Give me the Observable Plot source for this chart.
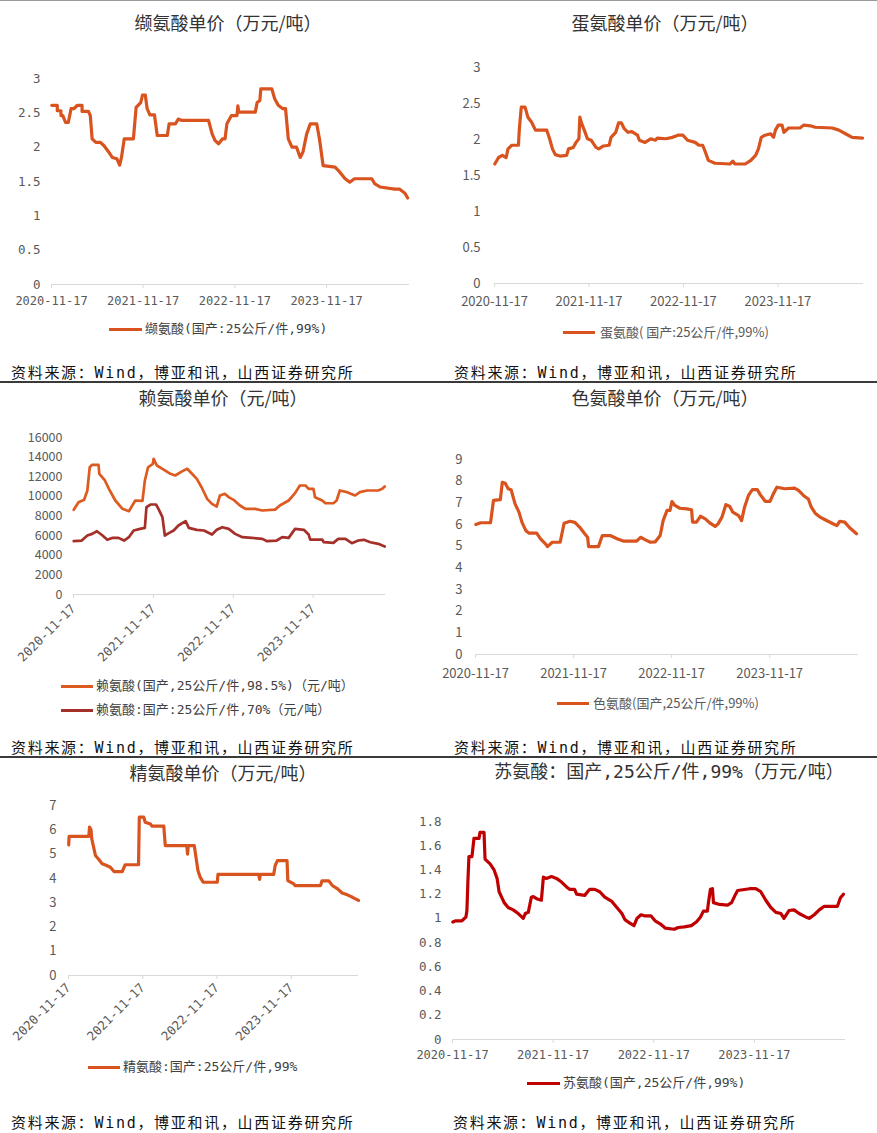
<!DOCTYPE html>
<html><head><meta charset="utf-8">
<script src="https://cdn.jsdelivr.net/npm/d3@7"></script>
<script src="https://cdn.jsdelivr.net/npm/@observablehq/plot@0.6"></script>
<style>
body{margin:0;background:#fff;}
#page{position:relative;width:877px;height:1133px;overflow:hidden;background:#fff;}
.abs{position:absolute;white-space:nowrap;}
.title{font-family:'Noto Sans CJK SC',sans-serif;font-size:18px;color:#333;line-height:24px;transform:translateX(-50%);}
.src{font-family:'DejaVu Sans Mono','Noto Sans CJK SC',monospace;font-size:15px;color:#111;line-height:20px;letter-spacing:1.7px;}
.leg{font-size:13px;line-height:18px;}
.sep{position:absolute;left:0;width:877px;}
</style>
</head><body><div id="page"></div>
<script>
// ---------- data (decimal year, value) ----------
const xTickLabels = ["2020-11-17","2021-11-17","2022-11-17","2023-11-17"];
const xEnd = 2024.78;

const valine = [[2020.88,2.61],[2020.94,2.61],[2020.94,2.53],[2020.98,2.53],[2020.98,2.46],[2021.00,2.46],[2021.03,2.36],[2021.06,2.36],[2021.09,2.56],[2021.12,2.56],[2021.16,2.61],[2021.21,2.61],[2021.21,2.52],[2021.28,2.52],[2021.30,2.46],[2021.32,2.12],[2021.36,2.07],[2021.41,2.07],[2021.45,2.02],[2021.50,1.93],[2021.54,1.85],[2021.59,1.83],[2021.62,1.74],[2021.64,1.85],[2021.67,2.12],[2021.77,2.12],[2021.80,2.58],[2021.85,2.65],[2021.87,2.76],[2021.90,2.76],[2021.92,2.56],[2021.95,2.47],[2022.00,2.47],[2022.03,2.17],[2022.14,2.17],[2022.16,2.34],[2022.23,2.34],[2022.26,2.41],[2022.30,2.39],[2022.59,2.39],[2022.63,2.19],[2022.66,2.10],[2022.70,2.05],[2022.74,2.12],[2022.77,2.12],[2022.79,2.34],[2022.84,2.46],[2022.90,2.46],[2022.91,2.60],[2022.92,2.51],[2023.10,2.51],[2023.12,2.65],[2023.15,2.68],[2023.16,2.85],[2023.28,2.85],[2023.31,2.71],[2023.35,2.61],[2023.40,2.56],[2023.43,2.56],[2023.46,2.12],[2023.50,2.00],[2023.55,2.00],[2023.59,1.85],[2023.62,1.93],[2023.66,2.19],[2023.70,2.34],[2023.77,2.34],[2023.80,2.12],[2023.84,1.73],[2023.97,1.71],[2024.02,1.64],[2024.08,1.54],[2024.13,1.49],[2024.18,1.54],[2024.37,1.54],[2024.40,1.47],[2024.46,1.42],[2024.62,1.39],[2024.67,1.39],[2024.73,1.33],[2024.76,1.26]];

const methionine = [[2020.88,1.66],[2020.92,1.75],[2020.96,1.78],[2021.00,1.75],[2021.02,1.87],[2021.06,1.92],[2021.13,1.92],[2021.14,2.15],[2021.16,2.45],[2021.20,2.45],[2021.23,2.31],[2021.27,2.24],[2021.31,2.13],[2021.43,2.13],[2021.46,2.01],[2021.49,1.87],[2021.52,1.79],[2021.57,1.77],[2021.64,1.78],[2021.66,1.87],[2021.71,1.89],[2021.74,1.96],[2021.77,2.01],[2021.78,2.31],[2021.80,2.22],[2021.83,2.12],[2021.86,2.01],[2021.90,1.99],[2021.95,1.89],[2021.98,1.87],[2022.03,1.91],[2022.09,1.92],[2022.11,2.03],[2022.16,2.10],[2022.19,2.23],[2022.22,2.23],[2022.25,2.15],[2022.29,2.10],[2022.33,2.11],[2022.39,2.06],[2022.41,1.99],[2022.47,1.96],[2022.53,2.01],[2022.58,1.99],[2022.60,2.02],[2022.69,2.01],[2022.76,2.03],[2022.82,2.06],[2022.87,2.06],[2022.92,1.99],[2023.00,1.96],[2023.04,1.92],[2023.08,1.92],[2023.11,1.82],[2023.14,1.71],[2023.21,1.67],[2023.37,1.66],[2023.40,1.70],[2023.42,1.66],[2023.53,1.66],[2023.59,1.71],[2023.64,1.78],[2023.67,1.87],[2023.70,2.03],[2023.74,2.06],[2023.80,2.08],[2023.83,2.03],[2023.85,2.13],[2023.88,2.20],[2023.92,2.20],[2023.94,2.10],[2023.99,2.16],[2024.11,2.16],[2024.15,2.20],[2024.22,2.19],[2024.27,2.17],[2024.45,2.16],[2024.52,2.13],[2024.59,2.08],[2024.66,2.03],[2024.77,2.02]];

const lysine985 = [[2020.88,8630],[2020.94,9410],[2021.01,9650],[2021.05,10600],[2021.08,12970],[2021.11,13220],[2021.19,13220],[2021.20,12300],[2021.27,11620],[2021.32,10770],[2021.40,9580],[2021.49,8730],[2021.57,8490],[2021.65,9580],[2021.74,9540],[2021.77,11620],[2021.81,12970],[2021.87,13320],[2021.88,13830],[2021.92,13150],[2021.99,12810],[2022.09,12300],[2022.15,12130],[2022.24,12570],[2022.30,12810],[2022.36,12300],[2022.42,11790],[2022.48,10930],[2022.55,9750],[2022.61,9240],[2022.67,8970],[2022.71,10090],[2022.77,10260],[2022.82,9920],[2022.88,9650],[2022.96,9070],[2023.03,8730],[2023.15,8730],[2023.24,8560],[2023.40,8650],[2023.46,9070],[2023.57,9580],[2023.65,10330],[2023.71,11110],[2023.78,11110],[2023.82,10770],[2023.88,10770],[2023.90,9920],[2023.99,9580],[2024.03,9300],[2024.13,9300],[2024.17,9580],[2024.21,10600],[2024.30,10430],[2024.40,10090],[2024.46,10430],[2024.55,10600],[2024.69,10600],[2024.74,10770],[2024.77,11010]];

const lysine70 = [[2020.88,5430],[2020.98,5500],[2021.05,6010],[2021.11,6180],[2021.17,6450],[2021.24,6010],[2021.30,5570],[2021.36,5770],[2021.44,5770],[2021.51,5500],[2021.57,5840],[2021.63,6520],[2021.71,6690],[2021.77,6790],[2021.79,8900],[2021.84,9170],[2021.91,9170],[2021.94,8730],[2021.99,7880],[2022.02,6010],[2022.07,6250],[2022.13,6520],[2022.19,7030],[2022.28,7470],[2022.32,6790],[2022.42,6590],[2022.51,6520],[2022.61,6110],[2022.67,6590],[2022.74,6860],[2022.82,6690],[2022.90,6180],[2022.99,5840],[2023.11,5770],[2023.24,5670],[2023.30,5430],[2023.42,5500],[2023.49,5840],[2023.57,5770],[2023.65,6690],[2023.76,6590],[2023.82,6110],[2023.84,5600],[2023.99,5600],[2024.01,5330],[2024.13,5260],[2024.19,5670],[2024.28,5670],[2024.36,5230],[2024.44,5500],[2024.51,5570],[2024.59,5330],[2024.69,5160],[2024.77,4890]];

const tryptophan = [[2020.88,6.00],[2020.93,6.08],[2021.03,6.08],[2021.06,7.11],[2021.13,7.15],[2021.15,7.95],[2021.18,7.90],[2021.21,7.65],[2021.24,7.60],[2021.28,6.95],[2021.32,6.57],[2021.35,6.11],[2021.39,5.72],[2021.42,5.60],[2021.50,5.60],[2021.54,5.34],[2021.59,5.11],[2021.61,4.98],[2021.66,5.18],[2021.74,5.18],[2021.78,6.06],[2021.84,6.15],[2021.89,6.10],[2021.94,5.87],[2021.99,5.57],[2022.02,5.41],[2022.03,4.98],[2022.13,4.98],[2022.17,5.49],[2022.25,5.49],[2022.32,5.34],[2022.39,5.23],[2022.52,5.23],[2022.56,5.41],[2022.61,5.29],[2022.66,5.18],[2022.71,5.20],[2022.76,5.49],[2022.79,6.18],[2022.83,6.65],[2022.86,6.65],[2022.88,7.06],[2022.91,6.88],[2022.96,6.75],[2023.03,6.72],[2023.08,6.68],[2023.09,6.11],[2023.13,6.11],[2023.17,6.38],[2023.22,6.26],[2023.27,6.06],[2023.32,5.91],[2023.35,6.03],[2023.39,6.34],[2023.43,6.92],[2023.47,6.83],[2023.50,6.57],[2023.56,6.41],[2023.59,6.18],[2023.62,6.80],[2023.66,7.34],[2023.70,7.61],[2023.75,7.61],[2023.78,7.38],[2023.83,7.07],[2023.88,7.07],[2023.91,7.38],[2023.95,7.72],[2024.03,7.65],[2024.13,7.68],[2024.17,7.57],[2024.22,7.34],[2024.27,7.18],[2024.30,6.80],[2024.34,6.52],[2024.39,6.34],[2024.44,6.22],[2024.51,6.06],[2024.56,5.95],[2024.59,6.15],[2024.64,6.11],[2024.69,5.85],[2024.76,5.57]];

const arginine = [[2020.88,5.38],[2020.885,5.73],[2021.15,5.73],[2021.16,6.11],[2021.18,6.00],[2021.19,5.63],[2021.24,4.94],[2021.28,4.80],[2021.33,4.60],[2021.39,4.53],[2021.44,4.46],[2021.49,4.28],[2021.60,4.28],[2021.64,4.56],[2021.82,4.56],[2021.83,6.52],[2021.89,6.52],[2021.91,6.31],[2021.98,6.24],[2022.00,6.15],[2022.16,6.15],[2022.18,5.35],[2022.47,5.35],[2022.48,5.00],[2022.49,5.35],[2022.57,5.35],[2022.59,4.94],[2022.62,4.32],[2022.65,4.05],[2022.69,3.84],[2022.88,3.84],[2022.89,4.16],[2023.44,4.16],[2023.45,3.96],[2023.46,4.16],[2023.64,4.16],[2023.66,4.53],[2023.69,4.73],[2023.82,4.73],[2023.83,3.91],[2023.91,3.77],[2023.93,3.70],[2024.27,3.70],[2024.29,3.90],[2024.38,3.90],[2024.43,3.70],[2024.49,3.59],[2024.56,3.40],[2024.63,3.32],[2024.70,3.22],[2024.78,3.09]];

const threonine = [[2020.88,0.97],[2020.91,0.98],[2020.97,0.98],[2021.01,1.01],[2021.02,1.065],[2021.03,1.31],[2021.04,1.51],[2021.07,1.51],[2021.09,1.66],[2021.14,1.66],[2021.15,1.71],[2021.19,1.71],[2021.20,1.49],[2021.25,1.45],[2021.29,1.40],[2021.32,1.33],[2021.34,1.22],[2021.39,1.13],[2021.43,1.09],[2021.48,1.07],[2021.53,1.04],[2021.58,1.00],[2021.60,1.04],[2021.63,1.05],[2021.66,1.175],[2021.68,1.18],[2021.72,1.16],[2021.76,1.15],[2021.78,1.34],[2021.81,1.33],[2021.86,1.345],[2021.91,1.33],[2021.96,1.30],[2022.01,1.26],[2022.04,1.24],[2022.09,1.24],[2022.11,1.20],[2022.19,1.19],[2022.24,1.24],[2022.29,1.24],[2022.34,1.22],[2022.39,1.175],[2022.46,1.14],[2022.51,1.09],[2022.56,1.04],[2022.59,0.99],[2022.64,0.96],[2022.68,0.94],[2022.71,1.00],[2022.75,1.03],[2022.79,1.02],[2022.85,1.02],[2022.89,0.98],[2022.94,0.955],[2022.99,0.92],[2023.08,0.91],[2023.12,0.925],[2023.18,0.93],[2023.25,0.94],[2023.30,0.97],[2023.34,1.01],[2023.37,1.06],[2023.41,1.06],[2023.42,1.13],[2023.44,1.24],[2023.46,1.245],[2023.47,1.13],[2023.53,1.115],[2023.61,1.11],[2023.65,1.13],[2023.69,1.20],[2023.71,1.23],[2023.83,1.245],[2023.89,1.245],[2023.94,1.22],[2023.99,1.15],[2024.04,1.09],[2024.09,1.05],[2024.14,1.04],[2024.17,1.00],[2024.22,1.065],[2024.27,1.07],[2024.32,1.04],[2024.39,1.01],[2024.42,1.00],[2024.47,1.03],[2024.52,1.07],[2024.57,1.10],[2024.70,1.10],[2024.73,1.17],[2024.76,1.20]];

const titles = ["缬氨酸单价（万元/吨）","蛋氨酸单价（万元/吨）","赖氨酸单价（元/吨）","色氨酸单价（万元/吨）","精氨酸单价（万元/吨）","苏氨酸：国产,25公斤/件,99%（万元/吨）"];
const legendLabels = {
  valine:"缬氨酸(国产:25公斤/件,99%)",
  methionine:"蛋氨酸( 国产:25公斤/件,99%)",
  lysine985:"赖氨酸(国产,25公斤/件,98.5%)（元/吨）",
  lysine70:"赖氨酸:国产:25公斤/件,70%（元/吨）",
  tryptophan:"色氨酸(国产,25公斤/件,99%)",
  arginine:"精氨酸:国产:25公斤/件,99%",
  threonine:"苏氨酸(国产,25公斤/件,99%)"
};
const sourceText = "资料来源：Wind，博亚和讯，山西证券研究所";

// ---------- helpers ----------
const ORANGE = "#D9531E", LYS_ORANGE = "#DD5A20", DARKRED = "#A5302A", RED = "#C00000";
const MONO = "'DejaVu Sans Mono','Noto Sans CJK SC',monospace";
const SANS = "'Noto Sans CJK SC',sans-serif";
function dec2date(t){const y=Math.floor(t);const a=Date.UTC(y,0,1),b=Date.UTC(y+1,0,1);return new Date(a+(t-y)*(b-a));}
const xTicks = xTickLabels.map(s=>new Date(s+"T00:00:00Z"));
const labelOf = new Map(xTicks.map((d,i)=>[+d,xTickLabels[i]]));
const xDomain = [xTicks[0], dec2date(xEnd)];
const page = document.getElementById("page");

function div(cls, css, text){const e=document.createElement("div");e.className="abs "+(cls||"");Object.assign(e.style,css);if(text!=null)e.textContent=text;page.appendChild(e);return e;}

function chart(o){
  const marks=[Plot.ruleY([0],{stroke:"#d9d9d9",strokeWidth:1})];
  marks.push(Plot.axisX({ticks:xTicks,tickFormat:d=>labelOf.get(+d),tickSize:4,tickPadding:o.xPad,tickRotate:o.rot||0,
    stroke:"#d9d9d9",fill:"#595959",fontFamily:o.xFont,fontSize:o.xSize}));
  marks.push(Plot.axisY({ticks:o.yTicks,tickFormat:d=>String(d),tickSize:0,tickPadding:o.yPad,fill:"#595959",fontFamily:o.yFont,fontSize:o.ySize}));
  for(const s of o.series){
    marks.push(Plot.line(s.data.map(([t,v])=>({date:dec2date(t),value:v})),{x:"date",y:"value",stroke:s.color,strokeWidth:s.w||3.2,strokeLinejoin:"round",strokeLinecap:"round"}));
  }
  const p=Plot.plot({width:o.w,height:o.h,marginLeft:o.m[0],marginRight:o.m[1],marginTop:o.m[2],marginBottom:o.m[3],
    x:{type:"utc",domain:xDomain,label:null},y:{domain:o.yDomain,label:null},
    style:{background:"transparent",overflow:"visible"},marks});
  const c=div("",{left:o.left+"px",top:o.top+"px",width:o.w+"px",height:o.h+"px"});
  c.appendChild(p);
}
function legend(x1,x2,y,color,label,font,textX,textColor){
  div("",{left:x1+"px",top:(y-1.5)+"px",width:(x2-x1)+"px",height:"3px",background:color});
  div("leg",{left:textX+"px",top:(y-9)+"px",fontFamily:font,color:textColor},label);
}

// ---------- separators ----------
div("sep",{top:"0px",height:"1px",background:"#9a9a9a"});
div("sep",{top:"381px",height:"2px",background:"#3a3a3a"});
div("sep",{top:"756px",height:"2px",background:"#3a3a3a"});

// ---------- titles ----------
const titlePos=[[228,22],[665,22],[223,397],[665,397],[223,772],[669,772]];
titles.forEach((t,i)=>div("title",{left:titlePos[i][0]+"px",top:(titlePos[i][1]-12)+"px",fontFamily:i===5?MONO:SANS},t));

// ---------- charts ----------
chart({left:0,top:60,w:437,h:260,m:[51,28,18,36],yDomain:[0,3],yTicks:[0,0.5,1,1.5,2,2.5,3],yPad:11,yFont:MONO,ySize:12.5,xFont:MONO,xSize:12,xPad:8,series:[{data:valine,color:ORANGE}]});
chart({left:437,top:50,w:440,h:270,m:[57,14,17,37],yDomain:[0,3],yTicks:[0,0.5,1,1.5,2,2.5,3],yPad:14,yFont:SANS,ySize:13,xFont:SANS,xSize:13,xPad:9,series:[{data:methionine,color:ORANGE}]});
chart({left:0,top:425,w:437,h:255,m:[73,52,12,86],yDomain:[0,16000],yTicks:[0,2000,4000,6000,8000,10000,12000,14000,16000],yPad:11,yFont:SANS,ySize:12.5,xFont:MONO,xSize:12.5,xPad:8,rot:-45,series:[{data:lysine985,color:LYS_ORANGE,w:2.7},{data:lysine70,color:DARKRED,w:2.7}]});
chart({left:437,top:445,w:440,h:240,m:[38,19,14,31],yDomain:[0,9],yTicks:[0,1,2,3,4,5,6,7,8,9],yPad:13,yFont:SANS,ySize:13,xFont:SANS,xSize:13,xPad:10,series:[{data:tryptophan,color:ORANGE}]});
chart({left:0,top:795,w:437,h:255,m:[68,79,10,75],yDomain:[0,7],yTicks:[0,1,2,3,4,5,6,7],yPad:12,yFont:SANS,ySize:13,xFont:MONO,xSize:12.5,xPad:6,rot:-45,series:[{data:arginine,color:ORANGE}]});
chart({left:410,top:805,w:467,h:255,m:[42,32,16,21],yDomain:[0,1.8],yTicks:[0,0.2,0.4,0.6,0.8,1,1.2,1.4,1.6,1.8],yPad:11,yFont:MONO,ySize:12.5,xFont:MONO,xSize:12,xPad:7,series:[{data:threonine,color:RED}]});

// ---------- legends ----------
legend(109,142,329,ORANGE,legendLabels.valine,MONO,145,"#404040");
legend(563,595,332,ORANGE,legendLabels.methionine,SANS,600,"#595959");
legend(61,93,686,LYS_ORANGE,legendLabels.lysine985,MONO,96,"#404040");
legend(61,93,710,DARKRED,legendLabels.lysine70,MONO,96,"#404040");
legend(557,589,703,ORANGE,legendLabels.tryptophan,SANS,593,"#595959");
legend(88,120,1067,ORANGE,legendLabels.arginine,MONO,123,"#404040");
legend(527,560,1083,RED,legendLabels.threonine,MONO,563,"#404040");

// ---------- sources ----------
[[11,373],[454,373],[11,748],[454,748],[11,1123],[453,1123]].forEach(([x,y])=>div("src",{left:x+"px",top:(y-10)+"px"},sourceText));
</script></body></html>
